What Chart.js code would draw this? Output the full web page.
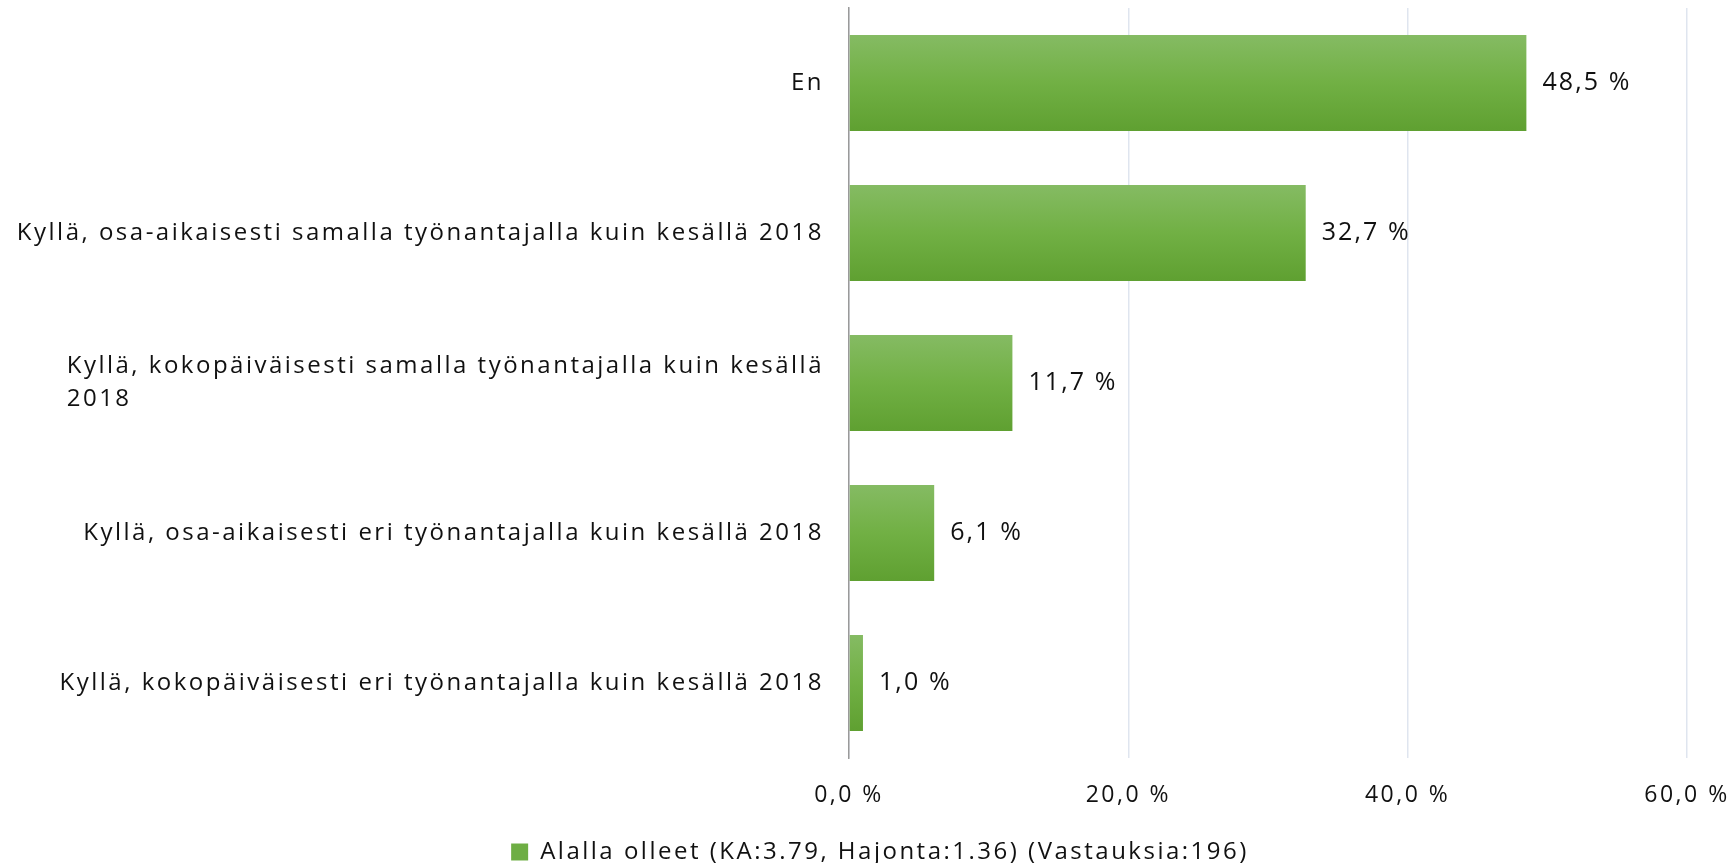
<!DOCTYPE html>
<html>
<head>
<meta charset="utf-8">
<script src="https://cdn.jsdelivr.net/npm/chart.js@4.4.1/dist/chart.umd.min.js"></script>
<style>
  body { margin: 0; background: #fff; }
</style>
</head>
<body>
<canvas id="jobChart" width="1732" height="863"></canvas>
<script>
// ===== DATA =====
const categories = [
  ["En"],
  ["Kyllä, osa-aikaisesti samalla työnantajalla kuin kesällä 2018"],
  ["Kyllä, kokopäiväisesti samalla työnantajalla kuin kesällä", "2018"],
  ["Kyllä, osa-aikaisesti eri työnantajalla kuin kesällä 2018"],
  ["Kyllä, kokopäiväisesti eri työnantajalla kuin kesällä 2018"]
];
const shares = [48.5, 32.7, 11.7, 6.1, 1.0];
const xTicks = [0, 20, 40, 60];
const seriesLabel = "Alalla olleet (KA:3.79, Hajonta:1.36) (Vastauksia:196)";

const FONT = "'Open Sans', 'Noto Sans', sans-serif";
const SPACING = "2.5px";

const fmtPct = v => v.toFixed(1).replace(".", ",") + " %";

// letter spacing for everything drawn on the canvas
const spacingPlugin = {
  id: "spacing",
  beforeLayout(chart) { chart.ctx.letterSpacing = SPACING; },
  beforeDraw(chart) { chart.ctx.letterSpacing = SPACING; }
};

// vertical gradient on each bar
const gradientPlugin = {
  id: "barGradient",
  beforeDatasetsDraw(chart) {
    const ctx = chart.ctx;
    chart.getDatasetMeta(0).data.forEach(bar => {
      const { y, height } = bar.getProps(["y", "height"], true);
      const g = ctx.createLinearGradient(0, y - height / 2, 0, y + height / 2);
      g.addColorStop(0, "#85bb63");
      g.addColorStop(0.5, "#71b044");
      g.addColorStop(1, "#5fa031");
      bar.options = Object.assign({}, bar.options, { backgroundColor: g });
    });
  }
};

// category labels (block right aligned, lines left aligned) + value labels
const labelPlugin = {
  id: "labels",
  afterDatasetsDraw(chart) {
    const ctx = chart.ctx;
    const yScale = chart.scales.y;
    const area = chart.chartArea;
    ctx.save();
    ctx.fillStyle = "#111";
    ctx.textBaseline = "middle";
    ctx.textAlign = "left";

    // category labels
    ctx.letterSpacing = SPACING;
    ctx.font = "24px " + FONT;
    const lineH = 33;
    categories.forEach((lines, i) => {
      const cy = yScale.getPixelForValue(i);
      const w = Math.max(...lines.map(l => ctx.measureText(l).width));
      const x0 = area.left - 25 - w;
      lines.forEach((l, j) => {
        ctx.fillText(l, x0, cy + (j - (lines.length - 1) / 2) * lineH);
      });
    });

    // value labels
    ctx.letterSpacing = "2.1px";
    ctx.font = "25px " + FONT;
    chart.getDatasetMeta(0).data.forEach((bar, i) => {
      ctx.fillText(fmtPct(shares[i]), bar.x + 16, bar.y);
    });
    ctx.restore();
  }
};

const ctx = document.getElementById("jobChart");

new Chart(ctx, {
  type: "bar",
  data: {
    labels: categories,
    datasets: [{
      label: seriesLabel,
      data: shares,
      backgroundColor: "#6eae44",
      borderWidth: 0,
      categoryPercentage: 1,
      barPercentage: 0.64
    }]
  },
  options: {
    indexAxis: "y",
    responsive: false,
    animation: false,
    layout: { padding: { top: 8, left: 28, right: 0, bottom: -11 } },
    scales: {
      x: {
        min: 0,
        max: 60,
        afterBuildTicks: scale => { scale.ticks = xTicks.map(v => ({ value: v })); },
        afterFit: scale => {
          scale.height = 81;
          scale.paddingLeft = 0;
          scale.paddingRight = 45;
        },
        grid: { color: "#dfe5ef", lineWidth: 1.5, drawTicks: false },
        border: { display: false },
        ticks: {
          padding: 24,
          color: "#111",
          font: { family: FONT, size: 23 },
          callback: v => fmtPct(v)
        }
      },
      y: {
        afterFit: scale => { scale.width = 821; },
        grid: { display: false },
        border: { color: "#9a9a9a", width: 1.5 },
        ticks: { display: false }
      }
    },
    plugins: {
      legend: {
        position: "bottom",
        labels: {
          boxWidth: 17,
          boxHeight: 17,
          padding: 1,
          color: "#111",
          font: { family: FONT, size: 24 }
        }
      },
      tooltip: { enabled: false }
    }
  },
  plugins: [spacingPlugin, gradientPlugin, labelPlugin]
});
</script>
</body>
</html>
